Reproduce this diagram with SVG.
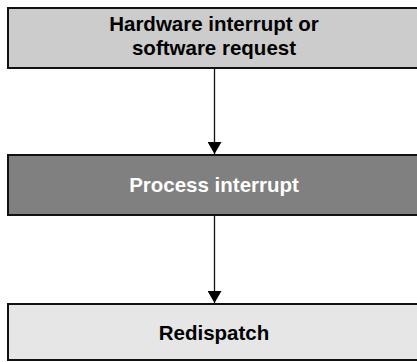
<svg xmlns="http://www.w3.org/2000/svg" width="417" height="362" viewBox="0 0 417 362">
<style>
.box{stroke:#111;stroke-width:2}
.lbl{font-family:"Liberation Sans",Arial,sans-serif;font-weight:bold;font-size:20.5px;text-anchor:middle}
.edge{stroke:#111;stroke-width:1.3;fill:none}
</style>
<defs>
<marker id="arr" markerUnits="userSpaceOnUse" markerWidth="12" markerHeight="14" refX="12" refY="7" orient="auto" viewBox="0 0 12 14">
<path d="M0,0 L12,7 L0,14 Z" fill="#000"/>
</marker>
</defs>
<rect width="417" height="362" fill="#fff"/>
<g id="connectors">
<line class="edge" x1="214.5" y1="69" x2="214.5" y2="154" marker-end="url(#arr)"/>
<line class="edge" x1="214.5" y1="216" x2="214.5" y2="303" marker-end="url(#arr)"/>
</g>
<g id="node-hw">
<rect class="box" x="8" y="8" width="414" height="60" fill="#cccccc"/>
<text class="lbl" x="214" y="30.5" fill="#000">Hardware interrupt or</text>
<text class="lbl" x="214" y="55" fill="#000">software request</text>
</g>
<g id="node-process">
<rect class="box" x="8" y="155" width="414" height="60" fill="#808080"/>
<text class="lbl" x="214" y="192" fill="#fff">Process interrupt</text>
</g>
<g id="node-redispatch">
<rect class="box" x="8" y="304" width="414" height="56" fill="#e6e6e6"/>
<text class="lbl" x="214" y="340" fill="#000">Redispatch</text>
</g>
</svg>
